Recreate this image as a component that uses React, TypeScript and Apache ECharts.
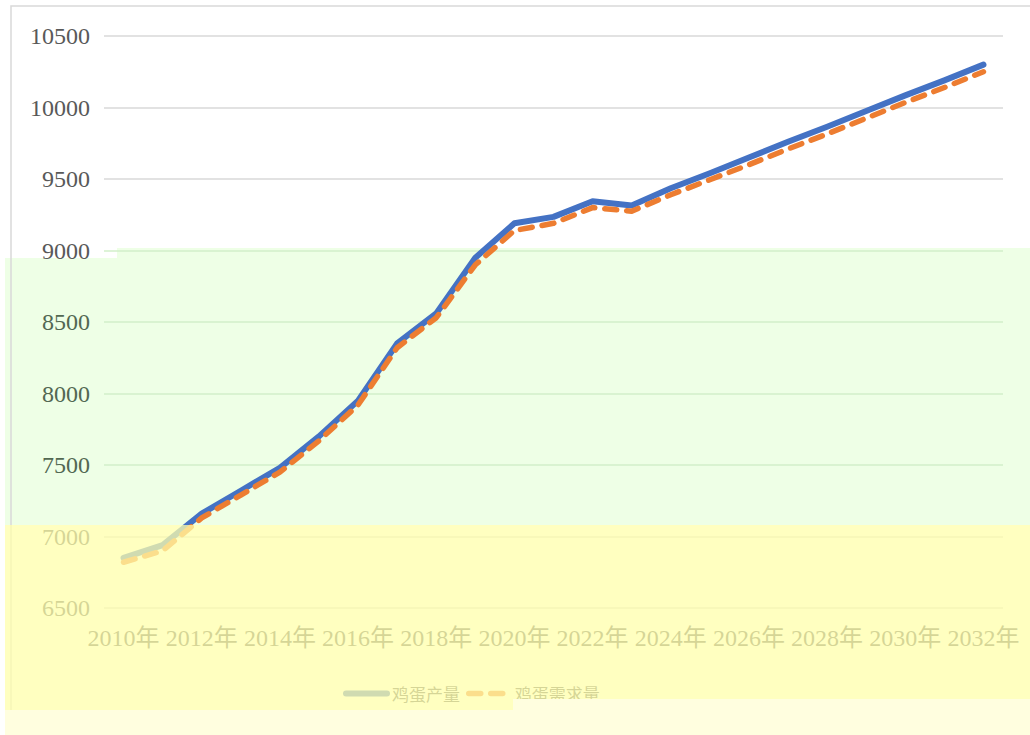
import React, { useEffect, useRef } from "react";
import * as echarts from "echarts";

const years = [
  "2010年", "2011年", "2012年", "2013年", "2014年", "2015年", "2016年", "2017年",
  "2018年", "2019年", "2020年", "2021年", "2022年", "2023年", "2024年", "2025年",
  "2026年", "2027年", "2028年", "2029年", "2030年", "2031年", "2032年",
];
const seriesNames = ["鸡蛋产量", "鸡蛋需求量"];
const production = [
  6850, 6940, 7160, 7320, 7480, 7700, 7950, 8350, 8560, 8950, 9190, 9235,
  9345, 9315, 9435, 9540, 9650, 9760, 9865, 9975, 10085, 10190, 10300,
];
const demand = [
  6820, 6900, 7130, 7290, 7450, 7670, 7920, 8320, 8530, 8900, 9140, 9190,
  9300, 9275, 9390, 9495, 9600, 9710, 9815, 9925, 10035, 10140, 10250,
];
const yMin = 6500;
const yMax = 10500;
const yStep = 500;

const SERIF = "'Liberation Serif', 'Times New Roman', 'Noto Sans CJK SC', serif";
const CJK = "'Noto Sans CJK SC', sans-serif";

export default function App() {
  const ref = useRef<HTMLDivElement>(null);
  useEffect(() => {
    if (!ref.current) return;
    const chart = echarts.init(ref.current, undefined, { renderer: "svg" });
    const greenVals = [7500, 8000, 8500];
    chart.setOption({
      animation: false,
      backgroundColor: "#ffffff",
      grid: { left: 104, right: 27, top: 36, bottom: 127, containLabel: false },
      legend: {
        left: 338,
        top: 680,
        itemWidth: 41,
        itemHeight: 14,
        itemGap: 6,
        textStyle: { fontSize: 17, color: "#595959", fontFamily: CJK },
        data: [
          {
            name: seriesNames[0],
            itemStyle: { opacity: 0 },
            lineStyle: { width: 6, color: "#4472C4", cap: "round" },
          },
          {
            name: seriesNames[1],
            itemStyle: { opacity: 0 },
            lineStyle: { width: 5.5, color: "#ED7D31", type: [12, 10], cap: "round" },
          },
        ],
      },
      xAxis: {
        type: "category",
        data: years,
        boundaryGap: true,
        axisLine: { show: false },
        axisTick: { show: false },
        axisLabel: {
          interval: 1,
          fontSize: 24,
          color: "#595959",
          fontFamily: SERIF,
          margin: 18,
        },
      },
      yAxis: {
        type: "value",
        min: yMin,
        max: yMax,
        interval: yStep,
        axisLine: { show: false },
        axisTick: { show: false },
        axisLabel: {
          fontSize: 24,
          fontFamily: SERIF,
          margin: 14,
          formatter: (v: number) => String(v),
          color: (v: any) => (greenVals.indexOf(Number(v)) >= 0 ? "#526852" : "#595959"),
        },
        splitLine: {
          lineStyle: {
            width: 1.5,
            color: [
              "#d9d9d9", "#d9d9d9", "#d2efca", "#d2efca", "#d2efca", "#d2efca",
              "#d9d9d9", "#d9d9d9", "#d9d9d9",
            ],
          },
        },
      },
      series: [
        {
          name: seriesNames[0],
          type: "line",
          data: production,
          symbol: "none",
          z: 3,
          lineStyle: { width: 6, color: "#4472C4", cap: "round", join: "round" },
          itemStyle: { color: "#4472C4" },
        },
        {
          name: seriesNames[1],
          type: "line",
          data: demand,
          symbol: "none",
          z: 4,
          lineStyle: {
            width: 5.5,
            color: "#ED7D31",
            type: [12, 10],
            cap: "round",
            join: "round",
          },
          itemStyle: { color: "#ED7D31" },
        },
      ],
      graphic: [
        {
          type: "rect",
          z: -1,
          silent: true,
          shape: { x: 117, y: 248, width: 913, height: 277 },
          style: { fill: "#eeffe6" },
        },
        {
          type: "rect",
          z: -1,
          silent: true,
          shape: { x: 5, y: 258, width: 112, height: 267 },
          style: { fill: "#eeffe6" },
        },
        {
          type: "rect",
          z: 0,
          silent: true,
          shape: { x: 11, y: 6, width: 1030, height: 740 },
          style: { fill: "none", stroke: "#d9d9d9", lineWidth: 1.5 },
        },
        {
          type: "rect",
          z: 100,
          silent: true,
          shape: { x: 5, y: 525, width: 1025, height: 185 },
          style: { fill: "#ffffab", opacity: 0.75 },
        },
        {
          type: "rect",
          z: 101,
          silent: true,
          shape: { x: 5, y: 710, width: 1025, height: 25 },
          style: { fill: "#fffedf" },
        },
        {
          type: "rect",
          z: 101,
          silent: true,
          shape: { x: 513, y: 699, width: 517, height: 11 },
          style: { fill: "#fffedf" },
        },
      ],
    });
    return () => chart.dispose();
  }, []);
  return (
    <div
      ref={ref}
      style={{ position: "fixed", left: 0, top: 0, width: 1030, height: 735 }}
    />
  );
}
